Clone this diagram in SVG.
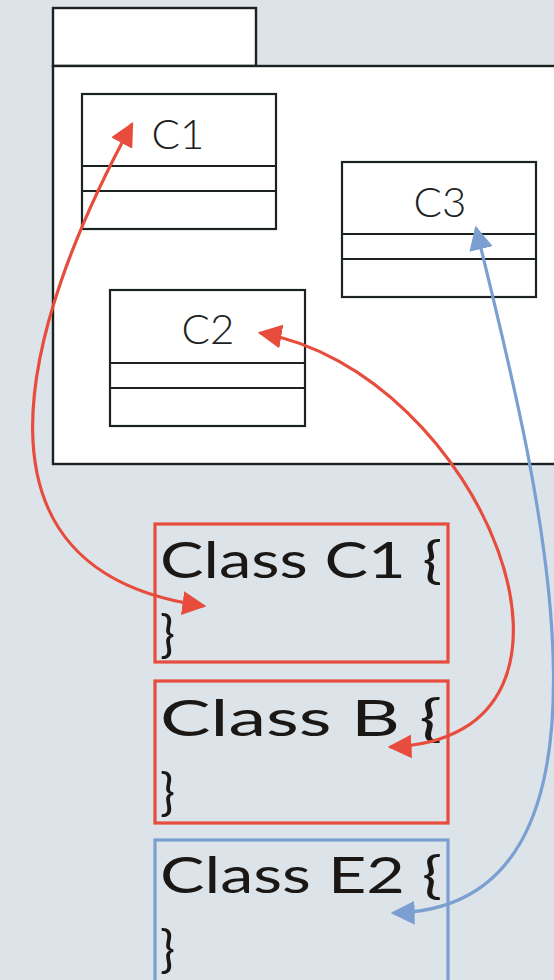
<svg xmlns="http://www.w3.org/2000/svg" width="554" height="980" viewBox="0 0 554 980">
<style>
.bg{fill:#dce4ea}
.pk{fill:#fff;stroke:#1c2222;stroke-width:2.4}
.cls{fill:#fff;stroke:#1c2222;stroke-width:2.2}
.ln{stroke:#1c2222;stroke-width:2.2}
.cn{font-family:Lato,"Open Sans",sans-serif;font-weight:300;font-size:42px;fill:#1c2222;text-anchor:middle}
.code{font-family:Lato,"Open Sans",sans-serif;font-weight:400;font-size:50px;fill:#1a1714}
.rbox{fill:none;stroke:#e74c3c;stroke-width:3.2}
.bbox{fill:none;stroke:#7b9fd0;stroke-width:3.2}
.rc{fill:none;stroke:#e74c3c;stroke-width:3.2}
.bc{fill:none;stroke:#7b9fd0;stroke-width:3.2}
</style>
<defs>
<marker id="ar" viewBox="0 0 10 10" refX="9" refY="5" markerWidth="7.5" markerHeight="7.5" markerUnits="strokeWidth" orient="auto-start-reverse"><path d="M0,0 L10,5 L0,10 z" fill="#e74c3c"/></marker>
<marker id="ab" viewBox="0 0 10 10" refX="9" refY="5" markerWidth="7.5" markerHeight="7.5" markerUnits="strokeWidth" orient="auto-start-reverse"><path d="M0,0 L10,5 L0,10 z" fill="#7b9fd0"/></marker>
</defs>
<rect class="bg" x="0" y="0" width="554" height="980"/>
<g id="package">
<rect class="pk" x="53" y="8" width="203" height="58"/>
<rect class="pk" x="53" y="66" width="520" height="398"/>
</g>
<g id="C1">
<rect class="cls" x="82" y="94" width="194" height="135"/>
<line class="ln" x1="82" y1="166" x2="276" y2="166"/>
<line class="ln" x1="82" y1="191" x2="276" y2="191"/>
<text class="cn" x="178" y="149">C1</text>
</g>
<g id="C2">
<rect class="cls" x="110" y="290" width="195" height="136"/>
<line class="ln" x1="110" y1="363" x2="305" y2="363"/>
<line class="ln" x1="110" y1="388" x2="305" y2="388"/>
<text class="cn" x="208" y="344">C2</text>
</g>
<g id="C3">
<rect class="cls" x="342" y="162" width="194" height="135"/>
<line class="ln" x1="342" y1="234" x2="536" y2="234"/>
<line class="ln" x1="342" y1="259" x2="536" y2="259"/>
<text class="cn" x="440" y="217">C3</text>
</g>
<g id="codeC1">
<rect class="rbox" x="155" y="524" width="293" height="138"/>
<text class="code" x="160" y="578" textLength="282" lengthAdjust="spacingAndGlyphs">Class C1 {</text>
<text class="code" x="160" y="652">}</text>
</g>
<g id="codeB">
<rect class="rbox" x="155" y="681" width="293" height="142"/>
<text class="code" x="160" y="736" textLength="282" lengthAdjust="spacingAndGlyphs">Class B {</text>
<text class="code" x="160" y="810">}</text>
</g>
<g id="codeE2">
<rect class="bbox" x="155" y="840" width="293" height="150"/>
<text class="code" x="160" y="893" textLength="282" lengthAdjust="spacingAndGlyphs">Class E2 {</text>
<text class="code" x="160" y="967">}</text>
</g>
<g id="connectors">
<path class="rc" d="M132,124 C20,330 -45,572 204,606" marker-start="url(#ar)" marker-end="url(#ar)"/>
<path class="rc" d="M260,333 C480,370 632,740 390,747" marker-start="url(#ar)" marker-end="url(#ar)"/>
<path class="bc" d="M476,228 C530,450 655,910 393,913" marker-start="url(#ab)" marker-end="url(#ab)"/>
</g>
</svg>
